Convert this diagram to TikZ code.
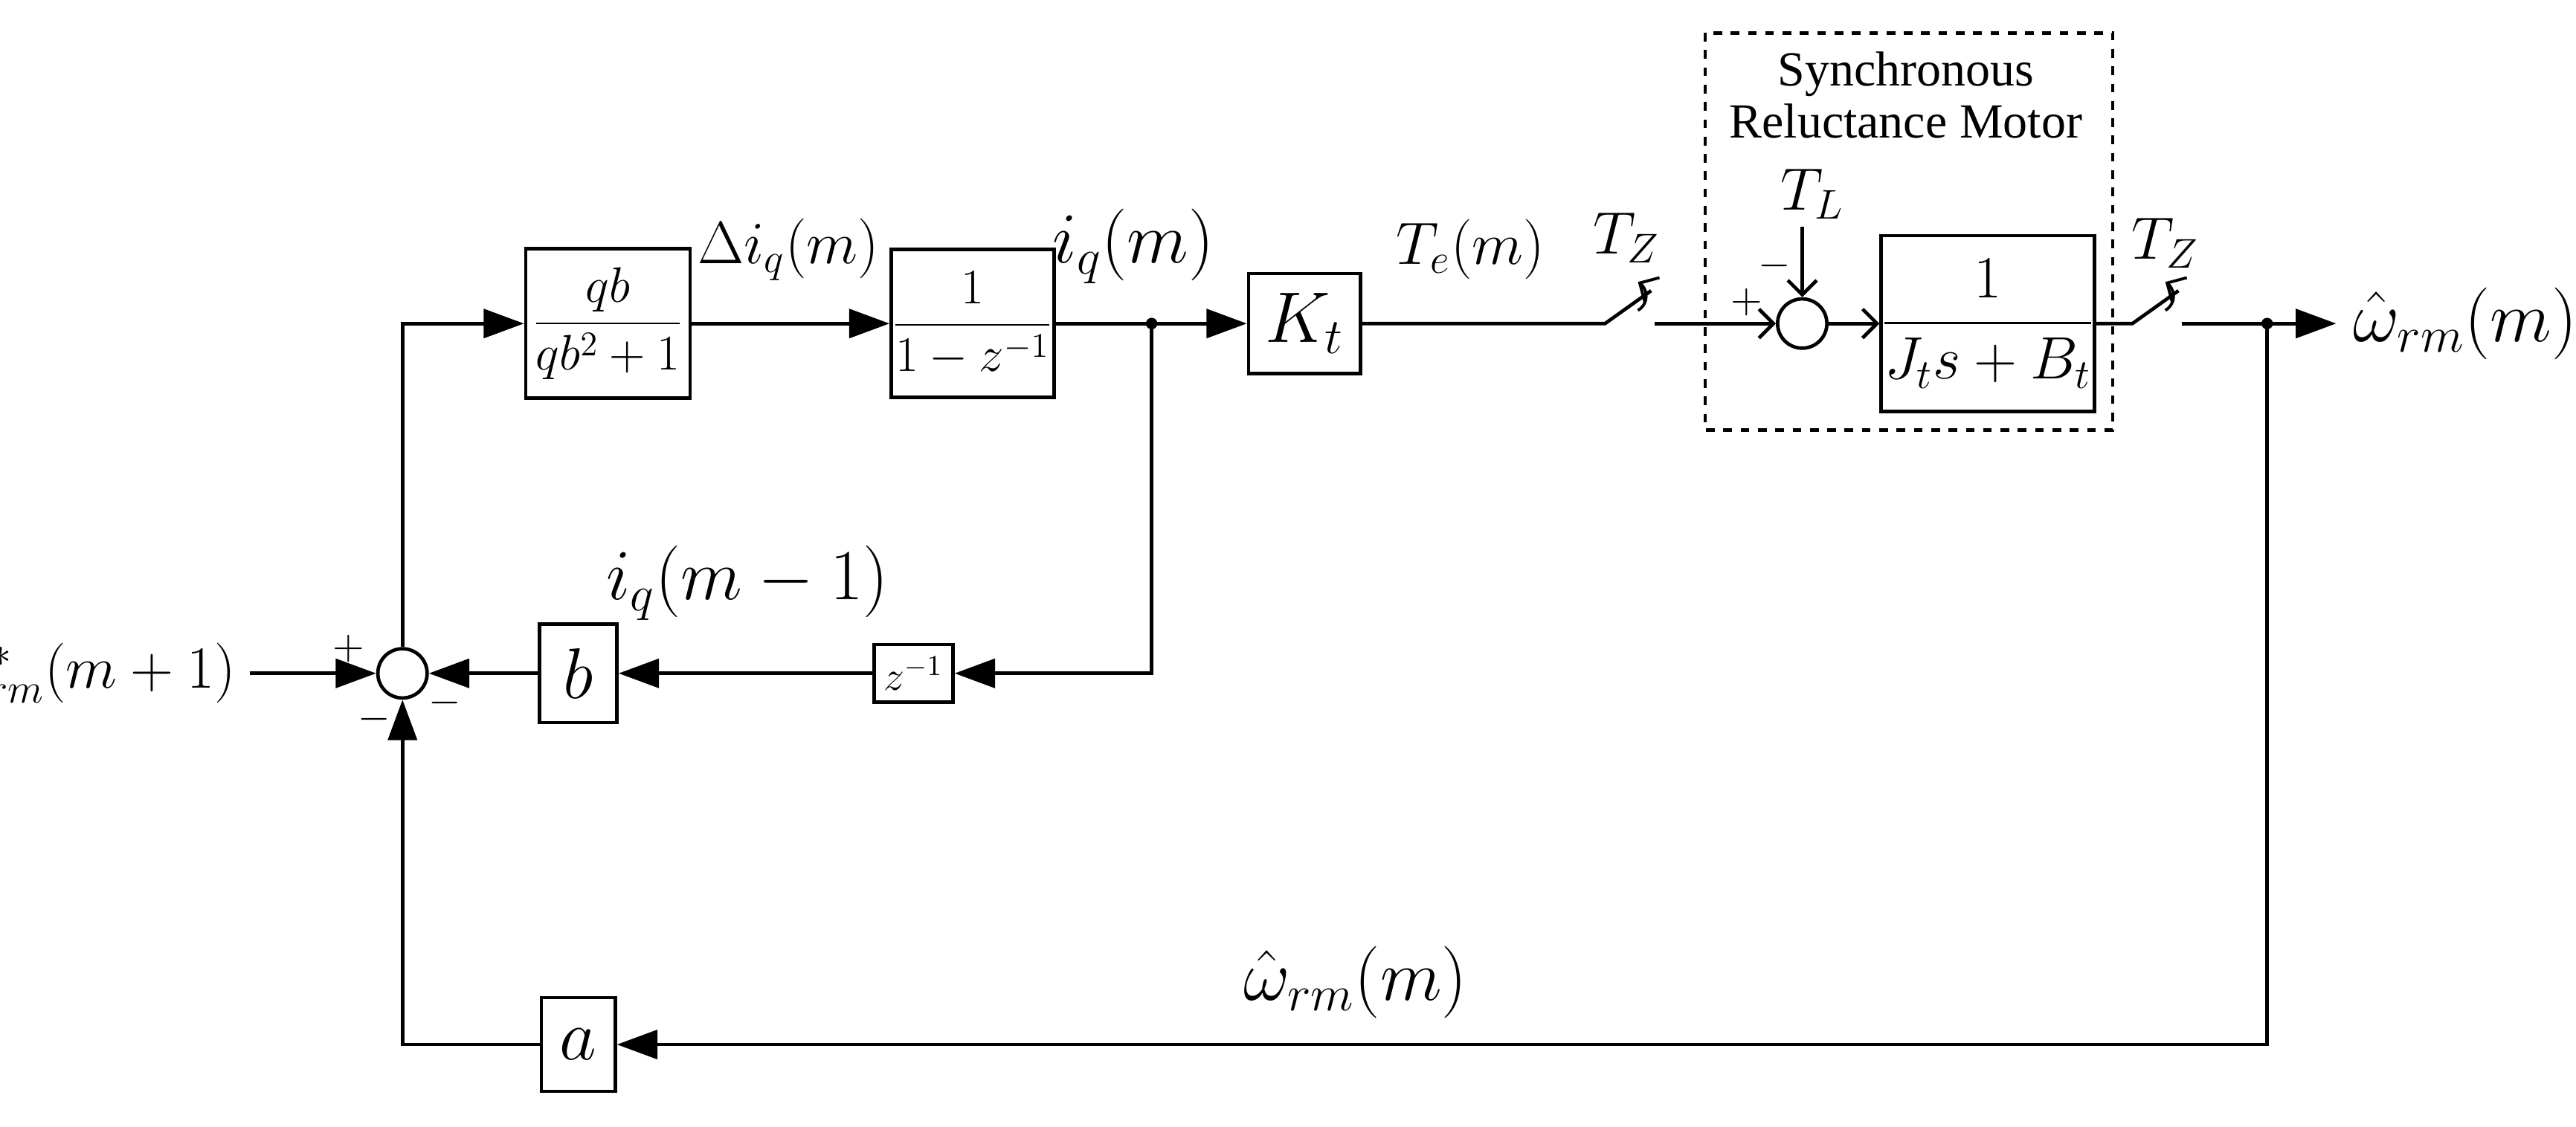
\documentclass[tikz,border=0pt]{standalone}
\usepackage{amsmath}
\usepackage{fontspec}
\setmainfont{Liberation Serif}
\usetikzlibrary{arrows.meta}
\begin{document}
\begin{tikzpicture}[x=0.02cm,y=-0.02cm,
  line width=1.2pt,
  blk/.style={draw,line width=1.2pt,inner sep=0pt,font=\fontsize{17}{20}\selectfont},
  sum/.style={draw,circle,minimum size=30*0.02cm,inner sep=0pt,line width=1.2pt},
  arr/.style={-{Triangle[length=14pt,width=10pt]}},
  sarr/.style={-{Straight Barb[length=5pt]}},
  lbl/.style={font=\fontsize{20}{24}\selectfont},
  big/.style={font=\fontsize{25}{30}\selectfont},
  sm/.style={font=\fontsize{14}{16}\selectfont}]
\useasboundingbox (0,0) rectangle (1568,686);
% blocks
\node[blk,minimum width=100*0.02cm,minimum height=91*0.02cm] (g1) at (370,197) {$\dfrac{qb}{qb^2+1}$};
\node[blk,minimum width=99*0.02cm,minimum height=90*0.02cm] (g2) at (592,197) {$\dfrac{1}{1-z^{-1}}$};
\node[blk,minimum width=68*0.02cm,minimum height=61*0.02cm,font=\fontsize{24}{28}\selectfont] (kt) at (794,197) {$K_t$};
\node[blk,minimum width=125*0.02cm,minimum height=107*0.02cm,font=\fontsize{20}{24}\selectfont] (pl) at (1210,197) {$\dfrac{1}{J_t s+B_t}$};
\node[blk,minimum width=48*0.02cm,minimum height=35*0.02cm,font=\fontsize{14}{16}\selectfont] (zd) at (556,410) {$z^{-1}$};
\node[blk,minimum width=47*0.02cm,minimum height=60*0.02cm,font=\fontsize{24}{28}\selectfont] (b) at (352,410) {$b$};
\node[blk,minimum width=45*0.02cm,minimum height=57*0.02cm,font=\fontsize{24}{28}\selectfont] (a) at (352,636) {$a$};
\node[sum] (s1) at (245,410) {};
\node[sum] (s2) at (1097,197) {};
\draw[dashed,line width=1.2pt] (1038,20) rectangle (1286,262);
\node[font=\fontsize{17}{20}\selectfont,align=center] (mt) at (1160,58) {Synchronous\\[-2pt]Reluctance Motor};
% coordinates
\coordinate (in) at (152,410);
\coordinate (j1) at (701,197);
\coordinate (sw1a) at (977,197);
\coordinate (sw1b) at (1007,197);
\coordinate (sw2a) at (1298,197);
\coordinate (sw2b) at (1328,197);
\coordinate (j2) at (1380,197);
\coordinate (out) at (1422,197);
\coordinate (tl) at (1097,138);
% forward path
\draw[arr] (in) -- (s1.west);
\draw[arr] (s1.north) |- (g1.west);
\draw[arr] (g1.east) -- (g2.west);
\draw[arr] (g2.east) -- (kt.west);
\draw (kt.east) -- (sw1a) -- ++(28,-20);
\draw[sarr] (sw1b) -- (s2.west);
\draw[sarr] (tl) -- (s2.north);
\draw[sarr] (s2.east) -- (pl.west);
\draw (pl.east) -- (sw2a) -- ++(28,-20);
\draw[arr] (sw2b) -- (out);
% switch arrows
\draw[sarr,line width=1pt] (997,189) arc[start angle=60,end angle=-60,radius=10];
\draw[sarr,line width=1pt] (1318,189) arc[start angle=60,end angle=-60,radius=10];
% inner loop
\draw[arr] (j1) |- (zd.east);
\draw[arr] (zd.west) -- (b.east);
\draw[arr] (b.west) -- (s1.east);
% outer loop
\draw[arr] (j2) |- (a.east);
\draw[arr] (a.west) -| (s1.south);
\fill (j1) circle (3.5);
\fill (j2) circle (3.5);
% labels
\node[lbl,anchor=east,inner sep=2pt] (l1) at (148,410) {$\omega^{*}_{rm}(m+1)$};
\node[sm] (p1) at (212,395) {$+$};
\node[sm] (p2) at (228,438) {$-$};
\node[sm] (p3) at (271,428) {$-$};
\node[lbl] (l2) at (480,152) {$\Delta i_q(m)$};
\node[big] (l3) at (690,150) {$i_q(m)$};
\node[lbl] (l4) at (895,152) {$T_e(m)$};
\node[lbl] (l5) at (990,145) {$T_Z$};
\node[lbl] (l6) at (1318,148) {$T_Z$};
\node[lbl] (l7) at (1103,118) {$T_L$};
\node[sm] (p4) at (1063,184) {$+$};
\node[sm] (p5) at (1080,162) {$-$};
\node[big,anchor=west,inner sep=2pt] (l8) at (1428,197) {$\hat{\omega}_{rm}(m)$};
\node[big] (l9) at (455,355) {$i_q(m-1)$};
\node[big] (l10) at (825,598) {$\hat{\omega}_{rm}(m)$};
\end{tikzpicture}
\end{document}
